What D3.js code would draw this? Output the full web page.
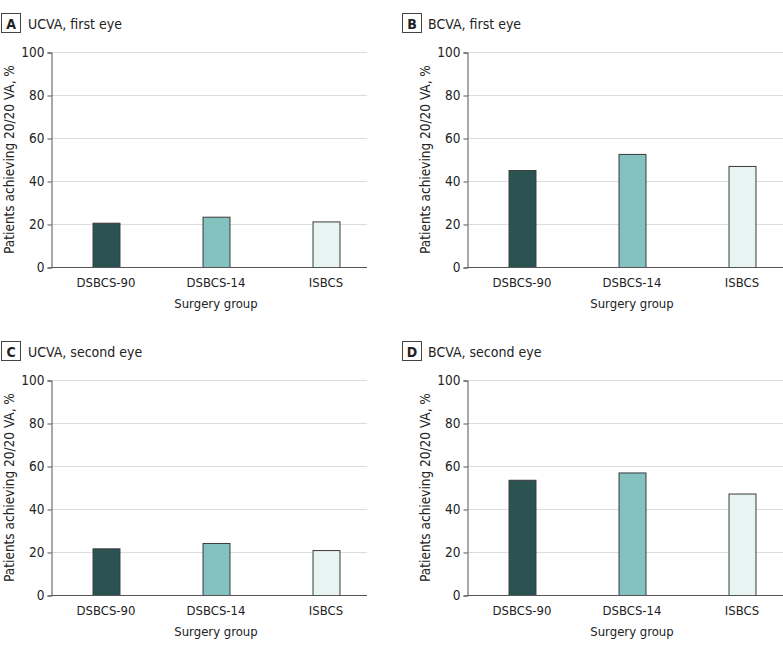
<!DOCTYPE html>
<html>
<head>
<meta charset="utf-8">
<script src="https://cdn.jsdelivr.net/npm/d3@7"></script>
<style>
  body { margin: 0; background: #fff; }
  text { font-family: "DejaVu Sans Condensed", "Liberation Sans Narrow", "Open Sans", sans-serif; fill: #222; }
</style>
</head>
<body>
<script>
// data
var groups = ["DSBCS-90", "DSBCS-14", "ISBCS"];
var colors = ["#2a5352", "#84c2c0", "#e8f3f4"];
var yTicks = [0, 20, 40, 60, 80, 100];

var ucvaFirst = [20.6, 23.4, 21.2];
var bcvaFirst = [45.1, 52.6, 47.0];
var ucvaSecond = [21.7, 24.2, 20.9];
var bcvaSecond = [53.6, 57.0, 47.2];

var panels = [
  { letter: "A", title: "UCVA, first eye", values: ucvaFirst, x: 0, y: 0, gridEnd: 367 },
  { letter: "B", title: "BCVA, first eye", values: bcvaFirst, x: 400, y: 0, gridEnd: 783 },
  { letter: "C", title: "UCVA, second eye", values: ucvaSecond, x: 0, y: 328, gridEnd: 367 },
  { letter: "D", title: "BCVA, second eye", values: bcvaSecond, x: 400, y: 328, gridEnd: 783 }
];

var svg = d3.select("body").append("svg")
  .attr("width", 783)
  .attr("height", 650);

var plotLeft = 51, plotTop = 52, plotBottom = 267;

var y = d3.scaleLinear().domain([0, 100]).range([plotBottom, plotTop]);

panels.forEach(function(p) {
  var g = svg.append("g").attr("transform", "translate(" + p.x + "," + p.y + ")");
  var left = plotLeft + (p.x ? 16 : 0);
  var right = p.gridEnd - p.x;

  var x = d3.scaleBand().domain(groups)
    .range([left, left + 330])
    .paddingInner(0.755).paddingOuter(0.755 / 2);

  // panel label box
  g.append("rect").attr("x", 1.5 + (p.x ? 1 : 0)).attr("y", 13.5)
    .attr("width", 19).attr("height", 19)
    .attr("fill", "#fff").attr("stroke", "#444").attr("stroke-width", 1);
  g.append("text").attr("x", 11 + (p.x ? 1 : 0)).attr("y", 28.5)
    .attr("text-anchor", "middle").style("font-weight", "bold").style("font-size", "14px")
    .text(p.letter);
  g.append("text").attr("x", 28).attr("y", 29)
    .style("font-size", "14px").text(p.title);

  // gridlines
  g.append("g").selectAll("line").data(yTicks.filter(function(d) { return d > 0; }))
    .enter().append("line")
    .attr("x1", left).attr("x2", right)
    .attr("y1", function(d) { return y(d) + 0.5; })
    .attr("y2", function(d) { return y(d) + 0.5; })
    .attr("stroke", "#dcdcdc").attr("stroke-width", 1);

  // bars
  g.append("g").selectAll("rect").data(p.values)
    .enter().append("rect")
    .attr("x", function(d, i) { return x(groups[i]) + 0.5; })
    .attr("width", x.bandwidth())
    .attr("y", function(d) { return y(d) + 0.5; })
    .attr("height", function(d) { return plotBottom - y(d); })
    .attr("fill", function(d, i) { return colors[i]; })
    .attr("stroke", "#3a3a3a").attr("stroke-width", 1);

  // y axis
  var yAxis = g.append("g").attr("transform", "translate(" + (left + 0.5) + ",0.5)")
    .call(d3.axisLeft(y).tickValues(yTicks).tickSize(4).tickPadding(3));
  yAxis.select(".domain").attr("stroke", "#555");
  yAxis.selectAll(".tick line").attr("stroke", "#555");
  yAxis.selectAll(".tick text").style("font-size", "13.5px").style("font-family", null).attr("fill", "#222");

  // x axis baseline
  g.append("line").attr("x1", left).attr("x2", right)
    .attr("y1", plotBottom + 0.5).attr("y2", plotBottom + 0.5)
    .attr("stroke", "#555").attr("stroke-width", 1);

  g.append("g").selectAll("text").data(groups)
    .enter().append("text")
    .attr("x", function(d) { return x(d) + x.bandwidth() / 2; })
    .attr("y", 287)
    .attr("text-anchor", "middle").style("font-size", "13px")
    .text(function(d) { return d; });

  g.append("text").attr("x", x(groups[1]) + x.bandwidth() / 2).attr("y", 308)
    .attr("text-anchor", "middle").style("font-size", "13px")
    .text("Surgery group");

  g.append("text")
    .attr("transform", "translate(" + (left - 37) + "," + ((plotTop + plotBottom) / 2) + ") rotate(-90)")
    .attr("text-anchor", "middle").style("font-size", "13.5px")
    .text("Patients achieving 20/20 VA, %");
});
</script>
</body>
</html>
